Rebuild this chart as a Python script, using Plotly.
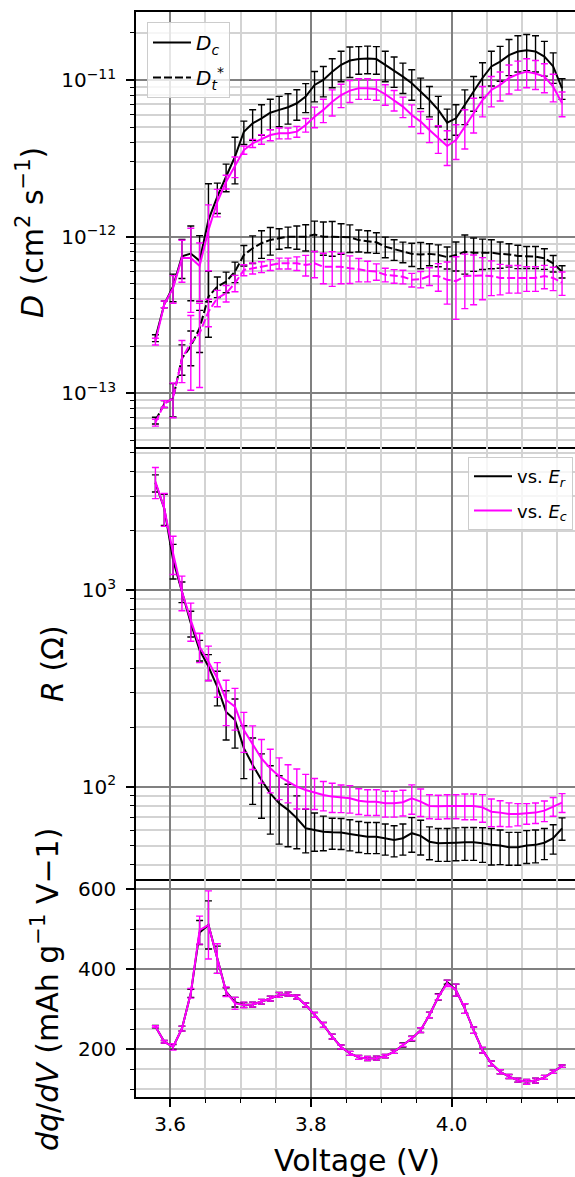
import plotly.graph_objects as go
from plotly.subplots import make_subplots

# ---------------- data ----------------
voltage = [3.579, 3.5916, 3.6041, 3.6167, 3.6293, 3.6418, 3.6544, 3.667, 3.6795, 3.6921,
           3.7047, 3.7172, 3.7298, 3.7423, 3.7549, 3.7675, 3.78, 3.7926, 3.8052, 3.8177,
           3.8303, 3.8429, 3.8554, 3.868, 3.8806, 3.8931, 3.9057, 3.9183, 3.9308, 3.9434,
           3.956, 3.9685, 3.9811, 3.9937, 4.0062, 4.0188, 4.0313, 4.0439, 4.0565, 4.069,
           4.0816, 4.0942, 4.1067, 4.1193, 4.1319, 4.1444, 4.157]

Dc_black = [2.25e-13, 3.7e-13, 4.8e-13, 7.5e-13, 7.8e-13, 7.0e-13, 1.28e-12, 1.80e-12, 2.42e-12, 3.24e-12,
            4.67e-12, 5.29e-12, 5.69e-12, 6.18e-12, 6.44e-12, 6.70e-12, 7.10e-12, 7.83e-12, 9.29e-12, 1.00e-11,
            1.13e-11, 1.25e-11, 1.33e-11, 1.36e-11, 1.37e-11, 1.36e-11, 1.25e-11, 1.15e-11, 1.05e-11, 9.52e-12,
            8.42e-12, 7.45e-12, 6.44e-12, 5.34e-12, 5.69e-12, 6.92e-12, 8.42e-12, 1.03e-11, 1.22e-11, 1.31e-11,
            1.44e-11, 1.52e-11, 1.55e-11, 1.52e-11, 1.41e-11, 1.22e-11, 8.85e-12]
Dc_black_relerr = [0.05, 0.05, 0.2, 0.28, 0.5, 0.45, 0.7, 0.22, 0.2, 0.33,
                   0.17, 0.22, 0.22, 0.22, 0.22, 0.22, 0.22, 0.21, 0.22, 0.22,
                   0.21, 0.22, 0.22, 0.2, 0.2, 0.2, 0.22, 0.22, 0.22, 0.22,
                   0.22, 0.22, 0.22, 0.22, 0.22, 0.25, 0.25, 0.25, 0.25, 0.25,
                   0.26, 0.26, 0.26, 0.26, 0.25, 0.22, 0.15]

Dc_mag = [2.14e-13, 3.7e-13, 4.7e-13, 7.3e-13, 7.3e-13, 6.5e-13, 1.10e-12, 1.67e-12, 2.24e-12, 2.80e-12,
          3.57e-12, 3.94e-12, 4.18e-12, 4.45e-12, 4.57e-12, 4.57e-12, 4.68e-12, 5.16e-12, 5.83e-12, 6.44e-12,
          7.27e-12, 8.02e-12, 8.55e-12, 8.85e-12, 8.85e-12, 8.73e-12, 8.11e-12, 7.45e-12, 6.76e-12, 5.98e-12,
          5.42e-12, 4.80e-12, 4.25e-12, 3.79e-12, 4.14e-12, 5.04e-12, 6.12e-12, 7.45e-12, 8.63e-12, 9.29e-12,
          1.03e-11, 1.09e-11, 1.13e-11, 1.10e-11, 1.05e-11, 9.06e-12, 7.10e-12]
Dc_mag_relerr = [0.05, 0.05, 0.2, 0.3, 0.55, 0.4, 0.45, 0.2, 0.1, 0.15,
                 0.06, 0.06, 0.07, 0.08, 0.08, 0.08, 0.08, 0.1, 0.15, 0.17,
                 0.19, 0.17, 0.16, 0.15, 0.15, 0.15, 0.15, 0.15, 0.15, 0.16,
                 0.16, 0.17, 0.2, 0.25, 0.25, 0.28, 0.25, 0.22, 0.22, 0.21,
                 0.21, 0.21, 0.21, 0.21, 0.21, 0.2, 0.18]

Dt_black = [6.7e-14, 8.55e-14, 9.3e-14, 1.67e-13, 2.0e-13, 2.6e-13, 4.14e-13, 4.8e-13, 5.16e-13, 5.98e-13,
            7.64e-13, 8.43e-13, 9.08e-13, 9.53e-13, 9.77e-13, 1.0e-12, 1.0e-12, 1.0e-12, 1.03e-12, 1.0e-12,
            1.0e-12, 9.9e-13, 9.9e-13, 9.5e-13, 9.4e-13, 9.2e-13, 8.63e-13, 8.3e-13, 8.02e-13, 7.76e-13,
            7.7e-13, 7.76e-13, 7.64e-13, 7.4e-13, 7.64e-13, 8.0e-13, 7.9e-13, 7.9e-13, 7.9e-13, 7.76e-13,
            7.7e-13, 7.53e-13, 7.45e-13, 7.45e-13, 7.27e-13, 6.76e-13, 5.98e-13]
Dt_black_relerr = [0.05, 0.05, 0.24, 0.22, 0.25, 0.3, 0.45, 0.15, 0.15, 0.15,
                   0.15, 0.2, 0.2, 0.2, 0.15, 0.15, 0.17, 0.19, 0.22, 0.24,
                   0.25, 0.22, 0.2, 0.16, 0.16, 0.15, 0.15, 0.15, 0.15, 0.17,
                   0.19, 0.16, 0.16, 0.16, 0.21, 0.28, 0.24, 0.22, 0.21, 0.19,
                   0.17, 0.17, 0.16, 0.16, 0.15, 0.12, 0.09]

Dt_mag = [6.5e-14, 8.55e-14, 9.3e-14, 1.67e-13, 2.09e-13, 2.42e-13, 3.32e-13, 4.05e-13, 4.35e-13, 5.05e-13,
          6.12e-13, 6.28e-13, 6.4e-13, 6.6e-13, 6.75e-13, 6.75e-13, 6.75e-13, 6.6e-13, 6.75e-13, 6.42e-13,
          6.42e-13, 6.42e-13, 6.28e-13, 6.2e-13, 6.05e-13, 5.98e-13, 5.71e-13, 5.6e-13, 5.55e-13, 5.3e-13,
          5.35e-13, 5.6e-13, 5.6e-13, 5.3e-13, 5.2e-13, 5.6e-13, 5.65e-13, 5.65e-13, 5.6e-13, 5.45e-13,
          5.45e-13, 5.45e-13, 5.45e-13, 5.45e-13, 5.6e-13, 5.45e-13, 5.08e-13]
Dt_mag_relerr = [0.05, 0.05, 0.25, 0.3, 0.5, 0.55, 0.2, 0.12, 0.12, 0.12,
                 0.08, 0.08, 0.08, 0.08, 0.08, 0.08, 0.1, 0.15, 0.19, 0.22,
                 0.25, 0.22, 0.2, 0.17, 0.15, 0.12, 0.1, 0.1, 0.1, 0.1,
                 0.12, 0.13, 0.2, 0.3, 0.43, 0.38, 0.35, 0.3, 0.25, 0.22,
                 0.2, 0.2, 0.18, 0.18, 0.17, 0.17, 0.17]

R_black = [3500, 2600, 1422, 980, 678, 495, 408, 322, 240, 218,
           157, 129, 108, 92.5, 82.3, 76.2, 69.1, 61.4, 60.2, 59.0,
           58.6, 58.4, 57.5, 56.4, 55.7, 55.7, 54.7, 53.6, 54.7, 58.0,
           56.2, 52.5, 51.5, 51.5, 51.9, 52.1, 52.1, 51.5, 50.6, 50.2,
           49.2, 49.2, 50.2, 50.6, 51.9, 54.7, 61.4]
R_black_relerr = [0.1, 0.18, 0.2, 0.12, 0.15, 0.12, 0.15, 0.2, 0.28, 0.28,
                  0.3, 0.37, 0.36, 0.38, 0.38, 0.35, 0.3, 0.25, 0.22, 0.2,
                  0.18, 0.18, 0.18, 0.18, 0.18, 0.18, 0.18, 0.18, 0.18, 0.2,
                  0.2, 0.19, 0.19, 0.19, 0.19, 0.19, 0.19, 0.2, 0.21, 0.2,
                  0.19, 0.19, 0.19, 0.19, 0.18, 0.17, 0.13]

R_mag = [3556, 2600, 1537, 980, 703, 515, 432, 356, 276, 255,
         194, 163, 139, 124, 113, 106, 100, 96.2, 93.3, 90.8,
         89.0, 87.9, 87.3, 84.9, 83.9, 83.9, 82.4, 82.4, 83.4, 87.3,
         83.9, 79.8, 79.4, 79.8, 79.8, 79.8, 79.8, 78.5, 74.6, 73.8,
         72.6, 72.6, 73.2, 73.8, 75.5, 79.4, 83.0]
R_mag_relerr = [0.18, 0.19, 0.22, 0.2, 0.22, 0.17, 0.2, 0.2, 0.26, 0.24,
                0.23, 0.25, 0.25, 0.25, 0.24, 0.22, 0.23, 0.2, 0.18, 0.17,
                0.17, 0.16, 0.16, 0.15, 0.15, 0.15, 0.15, 0.15, 0.15, 0.17,
                0.16, 0.14, 0.14, 0.14, 0.14, 0.15, 0.15, 0.16, 0.16, 0.15,
                0.14, 0.13, 0.12, 0.12, 0.12, 0.11, 0.11]

dqdV_black = [257, 219, 206, 252, 340, 492, 511, 424, 344, 318,
              311, 312, 319, 327, 336, 338, 331, 311, 286, 261,
              232, 206, 190, 180, 177, 178, 183, 194, 211, 227,
              248, 286, 331, 368, 348, 302, 248, 198, 165, 144,
              132, 123, 119, 122, 130, 144, 158]
dqdV_black_err = [3, 3, 6, 6, 10, 30, 60, 34, 10, 12,
                  6, 6, 6, 6, 6, 5, 5, 5, 6, 6,
                  6, 5, 5, 5, 5, 5, 4, 4, 5, 6,
                  6, 7, 8, 5, 15, 12, 8, 7, 6, 5,
                  5, 5, 6, 6, 5, 4, 3]

dqdV_mag = [257, 219, 206, 252, 340, 498, 511, 427, 344, 315,
            311, 312, 319, 327, 336, 338, 331, 311, 286, 261,
            232, 206, 190, 180, 177, 178, 183, 194, 211, 227,
            248, 286, 331, 365, 348, 302, 248, 198, 165, 144,
            132, 123, 119, 122, 130, 144, 158]
dqdV_mag_err = [2, 3, 8, 6, 12, 35, 85, 37, 12, 15,
                7, 6, 6, 6, 6, 5, 5, 5, 6, 6,
                6, 5, 5, 5, 5, 5, 4, 4, 4, 5,
                6, 7, 7, 8, 15, 12, 8, 7, 6, 5,
                5, 5, 6, 6, 5, 4, 3]

x_ticks = [3.6, 3.8, 4.0]
x_ticklabels = ["3.6", "3.8", "4.0"]
D_ticks = [1e-13, 1e-12, 1e-11]
D_ticklabels = ["10<sup>−13</sup>", "10<sup>−12</sup>", "10<sup>−11</sup>"]
R_ticks = [1e2, 1e3]
R_ticklabels = ["10<sup>2</sup>", "10<sup>3</sup>"]
q_ticks = [200, 400, 600]
q_ticklabels = ["200", "400", "600"]

# ---------------- layout helpers ----------------
W, H, L = 575, 1177, 136
FONT = "DejaVu Sans"
BLACK = "black"
MAG = "#ff00ff"
MAJOR_GRID = "#808080"
MINOR_GRID = "#d3d3d3"


def py(p):
    return 1 - p / H


def px(p):
    return (p - L) / (W - L)


def scaled(vals, frac):
    return [v * f for v, f in zip(vals, frac)]


fig = make_subplots(rows=3, cols=1, shared_xaxes=True, vertical_spacing=0)


def add(y, err, color, row, name=None, dash="solid", legend="legend", show=False, group=None):
    fig.add_trace(go.Scatter(
        x=voltage, y=y, mode="lines", name=name, showlegend=show, legend=legend,
        legendgroup=group,
        line=dict(color=color, width=2, dash=dash),
        error_y=dict(type="data", array=err, symmetric=True, color=color,
                     thickness=1.4, width=3.5),
    ), row=row, col=1)


DASH = "8px,3px"
add(Dc_black, scaled(Dc_black, Dc_black_relerr), BLACK, 1, "<i>D<sub>c</sub></i>", show=True, group="g1")
add(Dt_black, scaled(Dt_black, Dt_black_relerr), BLACK, 1, "<i>D<sub>t</sub></i><sup>*</sup>", dash=DASH,
    show=True, group="g2")
add(Dc_mag, scaled(Dc_mag, Dc_mag_relerr), MAG, 1)
add(Dt_mag, scaled(Dt_mag, Dt_mag_relerr), MAG, 1, dash=DASH)

add(R_black, scaled(R_black, R_black_relerr), BLACK, 2, "vs. <i>E<sub>r</sub></i>", legend="legend2",
    show=True, group="g3")
add(R_mag, scaled(R_mag, R_mag_relerr), MAG, 2, "vs. <i>E<sub>c</sub></i>", legend="legend2",
    show=True, group="g4")

add(dqdV_black, dqdV_black_err, BLACK, 3)
add(dqdV_mag, dqdV_mag_err, MAG, 3)

# minor tick positions (style only)
x_minor = [3.55, 3.65, 3.7, 3.75, 3.85, 3.9, 3.95, 4.05, 4.1, 4.15]
D_minor = [k * 10.0 ** e for e in (-14, -13, -12, -11) for k in range(2, 10)]
R_minor = [k * 10.0 ** e for e in (1, 2, 3) for k in range(2, 10)]
q_minor = [100, 150, 250, 300, 350, 450, 500, 550]

tickfont = dict(family=FONT, size=20, color="black")

for i in (1, 2, 3):
    last = i == 3
    fig.update_xaxes(
        row=i, col=1, range=[3.5514, 4.1754], automargin=False,
        showline=True, linecolor="black", linewidth=1.6, mirror=(i == 1),
        showgrid=True, gridcolor=MAJOR_GRID, gridwidth=1.5, zeroline=False,
        tickmode="array", tickvals=x_ticks, ticktext=x_ticklabels,
        showticklabels=last, ticks="outside" if last else "",
        ticklen=8, tickwidth=1.5, tickcolor="black", tickfont=tickfont,
        ticklabelstandoff=0,
        minor=dict(tickmode="array", tickvals=x_minor, showgrid=True,
                   gridcolor=MINOR_GRID, gridwidth=1.5,
                   ticks="outside" if last else "", ticklen=4.5, tickwidth=1.2,
                   tickcolor="black"),
    )

common_y = dict(automargin=False, showline=True, linecolor="black", linewidth=1.6,
                showgrid=True, gridcolor=MAJOR_GRID, gridwidth=1.5, zeroline=False,
                ticks="outside", ticklen=8, tickwidth=1.5, tickcolor="black",
                tickfont=tickfont, tickmode="array", ticklabelstandoff=6)

fig.update_yaxes(row=1, col=1, type="log", range=[-13.341, -10.568],
                 domain=[py(446.7), py(12.3)],
                 tickvals=D_ticks, ticktext=D_ticklabels,
                 minor=dict(tickmode="array", tickvals=D_minor, showgrid=True,
                            gridcolor=MINOR_GRID, gridwidth=1.5, ticks="outside",
                            ticklen=4.5, tickwidth=1.2, tickcolor="black"),
                 **common_y)
fig.update_yaxes(row=2, col=1, type="log", range=[1.529, 3.7286],
                 domain=[py(879.3), py(446.7)],
                 tickvals=R_ticks, ticktext=R_ticklabels,
                 minor=dict(tickmode="array", tickvals=R_minor, showgrid=True,
                            gridcolor=MINOR_GRID, gridwidth=1.5, ticks="outside",
                            ticklen=4.5, tickwidth=1.2, tickcolor="black"),
                 **common_y)
fig.update_yaxes(row=3, col=1, range=[81.7, 625],
                 domain=[py(1096.7), py(879.3)],
                 tickvals=q_ticks, ticktext=q_ticklabels,
                 minor=dict(tickmode="array", tickvals=q_minor, showgrid=True,
                            gridcolor=MINOR_GRID, gridwidth=1.5, ticks="outside",
                            ticklen=4.5, tickwidth=1.2, tickcolor="black"),
                 **common_y)

title_font = dict(family=FONT, size=30, color="black")
annotations = [
    dict(text="<i>D</i> (cm<sup>2</sup> s<sup>−1</sup>)", x=px(31), y=py(233), textangle=-90),
    dict(text="<i>R</i> (Ω)", x=px(52), y=py(664), textangle=-90),
    dict(text="<i>dq</i>/<i>dV</i> (mAh g<sup>−1</sup> V−1)", x=px(45), y=py(990), textangle=-90),
    dict(text="Voltage (V)", x=px(357), y=py(1160), textangle=0),
]
for a in annotations:
    fig.add_annotation(xref="paper", yref="paper", showarrow=False,
                       xanchor="center", yanchor="middle", font=title_font, **a)

legend_style = dict(bgcolor="rgba(255,255,255,0.8)", bordercolor="#cccccc", borderwidth=1,
                    yanchor="top", itemwidth=38)

fig.update_layout(
    width=W, height=H,
    margin=dict(l=L, r=0, t=0, b=0, autoexpand=False),
    plot_bgcolor="white", paper_bgcolor="white",
    font=dict(family=FONT, color="black"),
    showlegend=True,
    legend=dict(x=px(147), y=py(22), xanchor="left", tracegroupgap=6,
                font=dict(family=FONT, size=20, color="black"), **legend_style),
    legend2=dict(x=px(573), y=py(457), xanchor="right", tracegroupgap=8,
                 font=dict(family=FONT, size=18, color="black"), **legend_style),
)

fig.write_html("out.html")
